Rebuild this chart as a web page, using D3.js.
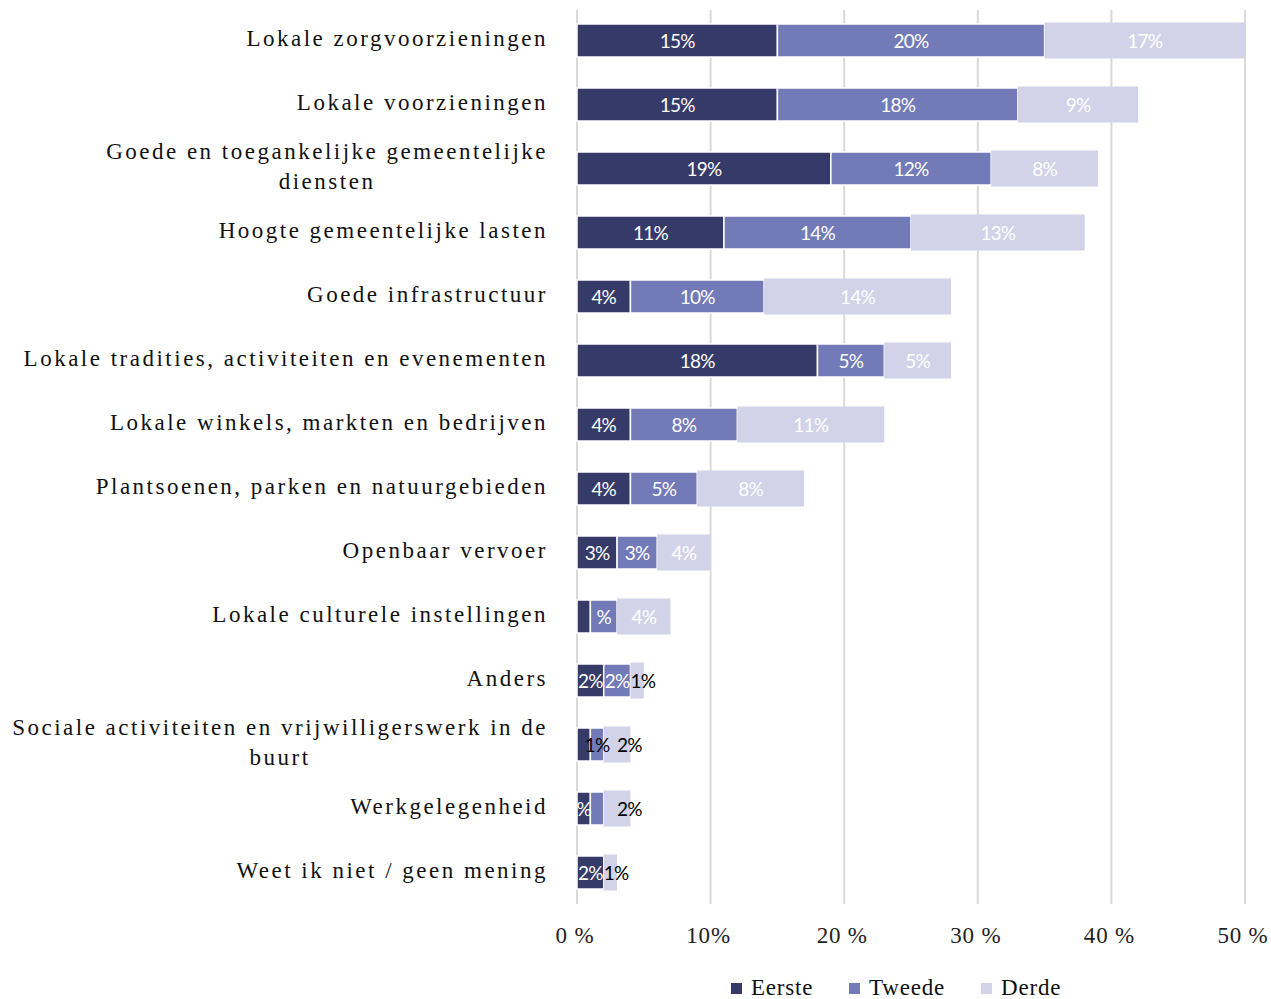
<!DOCTYPE html>
<html><head><meta charset="utf-8">
<script src="https://cdn.jsdelivr.net/npm/d3@7"></script>
<style>body{margin:0;background:#fff}</style>
</head><body>
<script>
const categories = [
  "Lokale zorgvoorzieningen",
  "Lokale voorzieningen",
  "Goede en toegankelijke gemeentelijke|diensten",
  "Hoogte gemeentelijke lasten",
  "Goede infrastructuur",
  "Lokale tradities, activiteiten en evenementen",
  "Lokale winkels, markten en bedrijven",
  "Plantsoenen, parken en natuurgebieden",
  "Openbaar vervoer",
  "Lokale culturele instellingen",
  "Anders",
  "Sociale activiteiten en vrijwilligerswerk in de|buurt",
  "Werkgelegenheid",
  "Weet ik niet / geen mening"
];
const eerste = [15, 15, 19, 11, 4, 18, 4, 4, 3, 1, 2, 1, 1, 2];
const tweede = [20, 18, 12, 14, 10, 5, 8, 5, 3, 2, 2, 1, 1, 0];
const derde  = [17, 9, 8, 13, 14, 5, 11, 8, 4, 4, 1, 2, 2, 1];
const eersteLabels = ["15%","15%","19%","11%","4%","18%","4%","4%","3%","","2%","","%","2%"];
const tweedeLabels = ["20%","18%","12%","14%","10%","5%","8%","5%","3%","%","2%","1%","",""];
const derdeLabels  = ["17%","9%","8%","13%","14%","5%","11%","8%","4%","4%","1%","2%","2%","1%"];
const seriesNames = ["Eerste","Tweede","Derde"];
const xTicks = [0, 10, 20, 30, 40, 50];
const xTickLabels = ["0 %","10%","20 %","30 %","40 %","50 %"];

const colors = ["#363a68", "#737ab8", "#d2d3e8"];
const W = 1271, H = 999;
const pL = 577, pR = 1245, pT = 8, pB = 904;

const svg = d3.select("body").append("svg").attr("width", W).attr("height", H);
const x = d3.scaleLinear().domain([0, 50]).range([pL, pR]);
const y = d3.scaleBand().domain(d3.range(categories.length)).range([pT, pB]);

// gridlines
svg.append("g").selectAll("line").data(xTicks).join("line")
  .attr("x1", d => x(d)).attr("x2", d => x(d))
  .attr("y1", pT + 2).attr("y2", pB)
  .attr("stroke", "#d9d9d9").attr("stroke-width", 2);

// tick labels
svg.append("g").selectAll("text").data(xTicks).join("text")
  .attr("x", d => x(d) - 2).attr("y", 943)
  .attr("text-anchor", "middle")
  .attr("font-family", "'Liberation Serif', serif").attr("font-size", 23)
  .attr("letter-spacing", 0.8)
  .attr("fill", "#222")
  .text((d, i) => xTickLabels[i]);

// stacked bars
const series = [eerste, tweede, derde];
const labels = [eersteLabels, tweedeLabels, derdeLabels];
const clip = v => Math.min(v, 50);
const segs = [];
categories.forEach((c, i) => {
  let acc = 0;
  series.forEach((s, k) => {
    const x0 = acc, x1 = acc + s[i];
    acc = x1;
    segs.push({i, k, x0: clip(x0), x1: clip(x1), label: labels[k][i]});
  });
});
const bw = y.bandwidth();
svg.append("g").selectAll("rect").data(segs.filter(d => d.x1 > d.x0)).join("rect")
  .attr("x", d => x(d.x0))
  .attr("width", d => x(d.x1) - x(d.x0))
  .attr("y", d => y(d.i) + bw / 2 - (d.k === 2 ? 17.5 : 16))
  .attr("height", d => d.k === 2 ? 36 : 33)
  .attr("fill", d => colors[d.k])
  .attr("stroke", d => d.k === 2 ? "none" : "#fff")
  .attr("stroke-width", 1.5);

// data labels
const segW = d => x(d.x1) - x(d.x0);
svg.append("g").selectAll("text").data(segs.filter(d => d.label)).join("text")
  .attr("x", d => {
    if (d.k === 2 && segW(d) < 30) return x(d.x1) - 1;
    return (x(d.x0) + x(d.x1)) / 2;
  })
  .attr("y", d => y(d.i) + bw / 2 + 7.5)
  .attr("text-anchor", "middle")
  .attr("font-family", "Lato, 'Liberation Sans', sans-serif").attr("font-size", 19)
  .attr("letter-spacing", -0.8)
  .attr("fill", d => {
    if (d.k === 2) return segW(d) < 30 ? "#000" : "#fff";
    if (d.k === 1) return segW(d) < 20 ? "#000" : "#fff";
    return "#fff";
  })
  .text(d => d.label);

// category labels
const catG = svg.append("g").attr("font-family", "'Liberation Serif', serif")
  .attr("font-size", 23).attr("letter-spacing", 2.5).attr("fill", "#111");
categories.forEach((c, i) => {
  const lines = c.split("|");
  const cy = y(i) + bw / 2;
  if (lines.length === 1) {
    catG.append("text").attr("x", 548).attr("y", cy + 6).attr("text-anchor", "end").text(lines[0]);
  } else {
    const t = catG.append("text").attr("text-anchor", "middle");
    lines.forEach((l, j) => t.append("tspan").text(l));
    const tmp = catG.append("text").text(lines[0]);
    const wLong = tmp.node().getComputedTextLength();
    tmp.remove();
    const cx = 548 - wLong / 2;
    t.selectAll("tspan").attr("x", cx).attr("y", (d, j) => cy - 9 + j * 30);
  }
});

// legend
const legX = [731, 849, 981];
const leg = svg.append("g");
seriesNames.forEach((n, k) => {
  leg.append("rect").attr("x", legX[k]).attr("y", 983).attr("width", 11).attr("height", 11).attr("fill", colors[k]);
  leg.append("text").attr("x", legX[k] + 20).attr("y", 995)
    .attr("font-family", "'Liberation Serif', serif").attr("font-size", 23)
    .attr("letter-spacing", 0.8).attr("fill", "#111").text(n);
});
</script>
</body></html>
